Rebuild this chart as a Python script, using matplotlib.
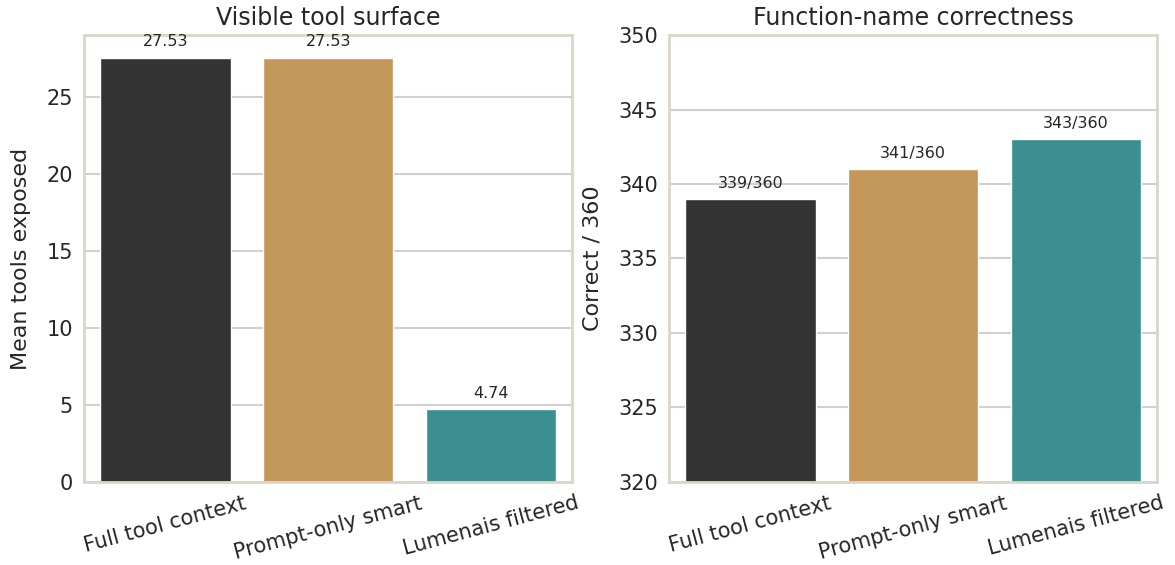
import matplotlib
matplotlib.use("Agg")
import matplotlib.pyplot as plt
import seaborn as sns

# Data
methods = ["Full tool context", "Prompt-only smart", "Lumenais filtered"]
mean_tools = [27.53, 27.53, 4.74]
correct = [339, 341, 343]
total = 360
colors = ["#333333", "#c4975b", "#3b8f91"]

sns.set_theme(style="whitegrid")
plt.rcParams["font.family"] = ["DejaVu Sans"]

fig, axes = plt.subplots(1, 2, figsize=(11.75, 5.65), dpi=100)
fig.subplots_adjust(left=0.0715, right=0.985, top=0.938, bottom=0.147, wspace=0.198)

spine_color = "#dcd5c9"
text_color = "#262626"


def style_axis(ax):
    for s in ax.spines.values():
        s.set_color(spine_color)
        s.set_linewidth(2)
    ax.grid(axis="y", color="#d0d0d0", linewidth=1.5)
    ax.grid(axis="x", visible=False)
    ax.set_axisbelow(True)
    ax.tick_params(axis="both", labelsize=15, colors=text_color, length=0)
    ax.tick_params(axis="y", pad=8)
    ax.set_xticks(range(len(methods)))
    ax.set_xticklabels(methods, rotation=15, ha="center")
    ax.tick_params(axis="x", pad=8)
    ax.set_xlim(-0.5, len(methods) - 0.5)


# Left panel: visible tool surface
ax = axes[0]
bars = ax.bar(range(len(methods)), mean_tools, width=0.8, color=colors)
for b, v in zip(bars, mean_tools):
    ax.annotate(f"{v:.2f}", (b.get_x() + b.get_width() / 2, v),
                xytext=(0, 6), textcoords="offset points",
                ha="center", va="bottom", fontsize=11.5, color=text_color)
ax.set_ylim(0, 29)
ax.set_yticks([0, 5, 10, 15, 20, 25])
ax.set_title("Visible tool surface", fontsize=17, color=text_color, pad=7)
ax.set_ylabel("Mean tools exposed", fontsize=16, color=text_color, labelpad=11)
style_axis(ax)

# Right panel: function-name correctness
ax = axes[1]
bars = ax.bar(range(len(methods)), correct, width=0.8, color=colors)
for b, v in zip(bars, correct):
    ax.annotate(f"{v}/{total}", (b.get_x() + b.get_width() / 2, v),
                xytext=(0, 6), textcoords="offset points",
                ha="center", va="bottom", fontsize=11.5, color=text_color)
ax.set_ylim(320, 350)
ax.set_yticks(range(320, 351, 5))
ax.set_title("Function-name correctness", fontsize=17, color=text_color, pad=7)
ax.set_ylabel("Correct / 360", fontsize=16, color=text_color, labelpad=11)
style_axis(ax)

plt.savefig("out.png", dpi=100)
